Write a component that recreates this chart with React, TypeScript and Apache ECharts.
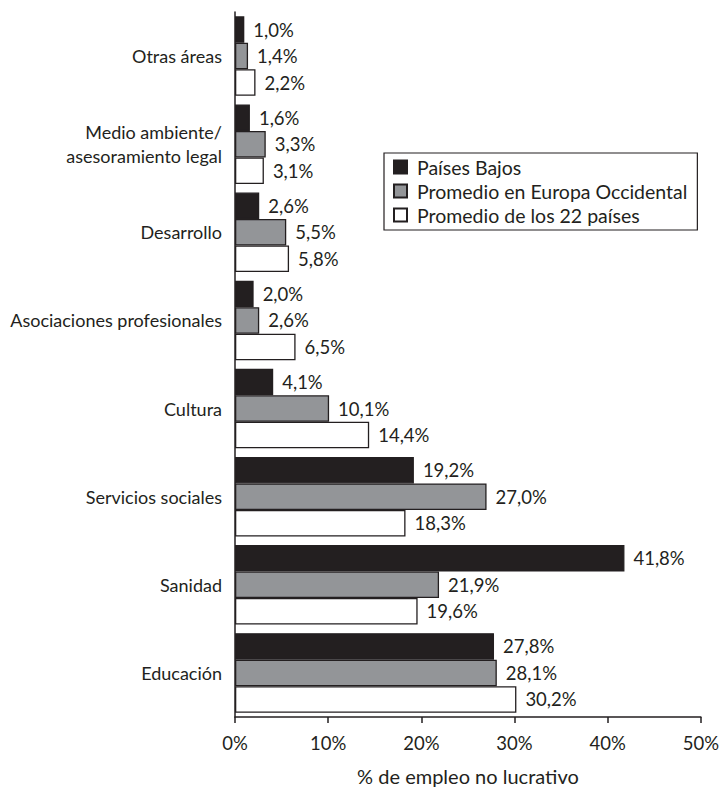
import React, { useEffect, useRef } from "react";
import * as echarts from "echarts";

const categories = [
  "Otras áreas",
  "Medio ambiente/\nasesoramiento legal",
  "Desarrollo",
  "Asociaciones profesionales",
  "Cultura",
  "Servicios sociales",
  "Sanidad",
  "Educación",
];
const seriesNames = [
  "Países Bajos",
  "Promedio en Europa Occidental",
  "Promedio de los 22 países",
];
const paisesBajos = [1.0, 1.6, 2.6, 2.0, 4.1, 19.2, 41.8, 27.8];
const europaOccidental = [1.4, 3.3, 5.5, 2.6, 10.1, 27.0, 21.9, 28.1];
const promedio22 = [2.2, 3.1, 5.8, 6.5, 14.4, 18.3, 19.6, 30.2];
const xTicks = [0, 10, 20, 30, 40, 50];
const axisTitle = "% de empleo no lucrativo";

const INK = "#231f20";
const FONT = "Lato, 'Open Sans', sans-serif";
const fills = ["#231f20", "#939598", "#ffffff"];

export default function App() {
  const ref = useRef<HTMLDivElement>(null);
  useEffect(() => {
    if (!ref.current) return;
    const chart = echarts.init(ref.current, undefined, { renderer: "svg" });
    const values = [paisesBajos, europaOccidental, promedio22];
    chart.setOption({
      animation: false,
      backgroundColor: "#ffffff",
      textStyle: { fontFamily: FONT, color: INK },
      grid: { left: 235, right: 21, top: 12, bottom: 69, containLabel: false },
      legend: {
        orient: "vertical",
        left: 384,
        top: 153,
        data: seriesNames,
        icon: "rect",
        itemWidth: 13,
        itemHeight: 13,
        itemGap: 4,
        padding: [4, 10, 5, 9],
        borderColor: INK,
        borderWidth: 1.2,
        textStyle: {
          fontSize: 19.5,
          color: INK,
          fontFamily: FONT,
          lineHeight: 19,
          padding: [0, 0, 0, 5],
        },
      },
      xAxis: {
        type: "value",
        min: 0,
        max: 50,
        interval: 10,
        name: axisTitle,
        nameLocation: "middle",
        nameGap: 49,
        nameTextStyle: { fontSize: 20, color: INK, fontFamily: FONT },
        axisLine: { show: true, lineStyle: { color: INK, width: 1.5 } },
        axisTick: { show: true, length: 6, lineStyle: { color: INK, width: 1.5 } },
        axisLabel: {
          fontSize: 18.5,
          color: INK,
          margin: 16,
          formatter: (v: number) => (xTicks.includes(v) ? v + "%" : ""),
        },
        splitLine: { show: false },
      },
      yAxis: {
        type: "category",
        inverse: true,
        data: categories,
        axisLine: { show: true, lineStyle: { color: INK, width: 1.5 } },
        axisTick: { show: false },
        axisLabel: { fontSize: 18, color: INK, margin: 13, lineHeight: 24, align: "right" },
      },
      series: seriesNames.map((name, i) => ({
        name,
        type: "bar",
        data: values[i],
        barWidth: 26.5,
        barGap: "0%",
        itemStyle: { color: fills[i], borderColor: INK, borderWidth: 1.3 },
        label: {
          show: true,
          position: "right",
          distance: 9,
          fontSize: 18.5,
          color: INK,
          fontFamily: FONT,
          formatter: (p: any) => p.value.toFixed(1).replace(".", ",") + "%",
        },
      })),
    });
    return () => chart.dispose();
  }, []);
  return (
    <div
      ref={ref}
      style={{ position: "fixed", left: 0, top: 0, width: 722, height: 791 }}
    />
  );
}
